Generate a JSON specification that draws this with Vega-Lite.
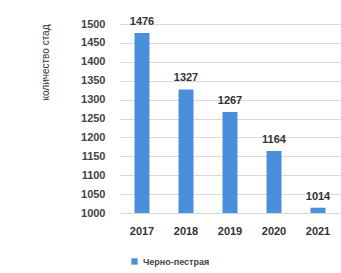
{
  "$schema": "https://vega.github.io/schema/vega-lite/v6.json",
  "width": 220,
  "height": 189,
  "autosize": {"type": "none"},
  "padding": {"left": 120, "top": 24, "right": 1, "bottom": 60},
  "background": "white",
  "data": {"values": [
    {"year": "2017", "value": 1476, "breed": "Черно-пестрая"},
    {"year": "2018", "value": 1327, "breed": "Черно-пестрая"},
    {"year": "2019", "value": 1267, "breed": "Черно-пестрая"},
    {"year": "2020", "value": 1164, "breed": "Черно-пестрая"},
    {"year": "2021", "value": 1014, "breed": "Черно-пестрая"}
  ]},
  "config": {
    "view": {"stroke": null},
    "font": "Liberation Sans"
  },
  "encoding": {
    "x": {
      "field": "year", "type": "nominal",
      "scale": {"paddingInner": 0.66, "paddingOuter": 0.33},
      "axis": {"title": null, "labelAngle": 0, "domain": false, "ticks": false, "labelFontSize": 11, "labelFontWeight": "bold", "labelColor": "#333333", "labelPadding": 12}
    },
    "y": {
      "field": "value", "type": "quantitative",
      "scale": {"domain": [1000, 1500], "zero": false, "nice": false},
      "axis": {"title": "количество стад", "titleFontSize": 10, "titleFontWeight": "normal", "titleColor": "#333333", "titleAnchor": "end", "titleX": -70, "titlePadding": 0,
        "values": [1000, 1050, 1100, 1150, 1200, 1250, 1300, 1350, 1400, 1450, 1500],
        "format": "d", "grid": true,
        "domain": false, "ticks": false, "labelFontSize": 11, "labelFontWeight": "bold", "labelColor": "#444444", "labelPadding": 15,
        "gridColor": "#d9d9d9", "gridOpacity": 1}
    }
  },
  "layer": [
    {
      "mark": {"type": "bar"},
      "encoding": {
        "y2": {"datum": 1000},
        "color": {"field": "breed", "type": "nominal", "scale": {"range": ["#4a8fdc"]},
          "legend": {"title": null, "orient": "none", "legendX": 10, "legendY": 233, "symbolType": "square", "symbolSize": 40, "labelFontSize": 9, "labelFontWeight": "bold", "labelColor": "#444444"}}
      }
    },
    {
      "mark": {"type": "text", "baseline": "bottom", "dy": -6, "fontSize": 11, "fontWeight": "bold", "color": "#333333"},
      "encoding": {"text": {"field": "value", "type": "quantitative", "format": "d"}}
    }
  ]
}
